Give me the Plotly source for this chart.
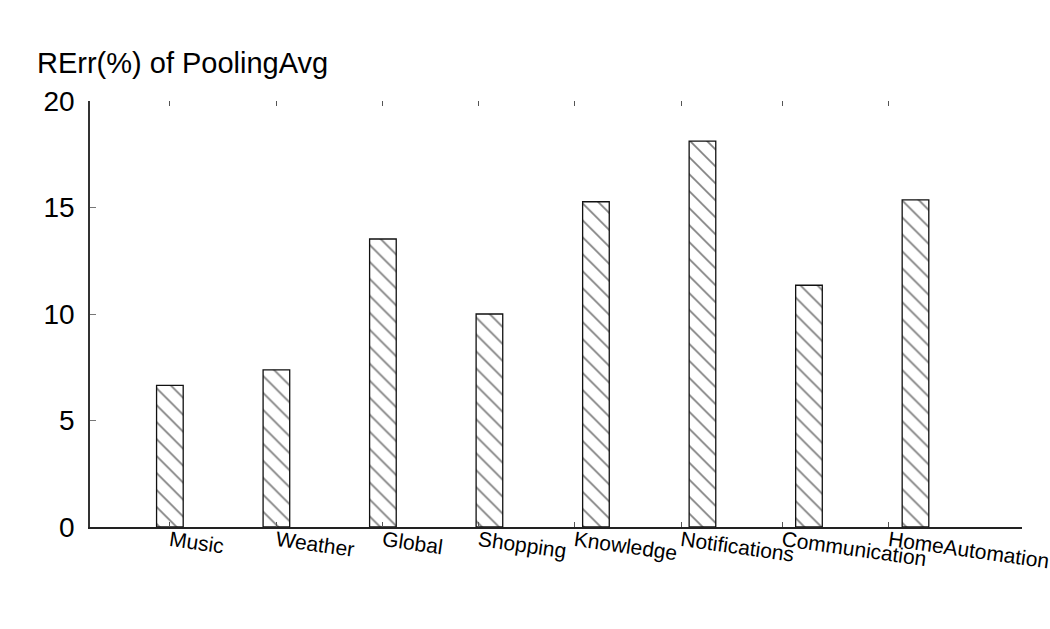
import plotly.graph_objects as go

categories = ["Music", "Weather", "Global", "Shopping", "Knowledge",
              "Notifications", "Communication", "HomeAutomation"]
values = [6.65, 7.38, 13.52, 10.0, 15.27, 18.12, 11.35, 15.36]
y_ticks = [0, 5, 10, 15, 20]

# layout: bar slots and (irregular) label/tick positions, in slot units
bar_pos = list(range(len(categories)))
tick_pos = [0, 1, 2, 2.9, 3.8, 4.8, 5.75, 6.75]

fig = go.Figure()
fig.add_trace(go.Bar(
    x=bar_pos, y=values, width=0.25,
    marker=dict(color="white",
                line=dict(color="#111", width=1.3),
                pattern=dict(shape="\\", fgcolor="#000", bgcolor="white",
                             size=12, solidity=0.14)),
    showlegend=False,
))
# invisible trace on top axis to carry mirrored ticks
fig.add_trace(go.Scatter(x=[bar_pos[0]], y=[0], xaxis="x2", mode="markers",
                         marker=dict(opacity=0), showlegend=False,
                         hoverinfo="skip"))

fig.update_layout(
    width=1050, height=629,
    margin=dict(l=90, r=28, t=101, b=102, autoexpand=False),
    plot_bgcolor="white", paper_bgcolor="white",
    font=dict(family="Liberation Sans, Arial, sans-serif", color="black"),
    xaxis=dict(range=[-0.75, 8.0], tickmode="array", tickvals=tick_pos,
               ticktext=categories, tickangle=8, ticks="inside", ticklen=5,
               tickcolor="#555", tickwidth=1, showline=True, linecolor="#222",
               linewidth=1.5, showgrid=False, zeroline=False,
               tickfont=dict(size=21), ticklabeloverflow="allow",
               ticklabelstandoff=-8, automargin=False),
    xaxis2=dict(range=[-0.75, 8.0], overlaying="x", side="top",
                tickmode="array", tickvals=tick_pos, showticklabels=False,
                ticks="inside", ticklen=5, tickcolor="#555", tickwidth=1,
                showline=False, showgrid=False, zeroline=False,
                automargin=False),
    yaxis=dict(range=[0, 20], tickmode="array", tickvals=y_ticks,
               ticks="inside", ticklen=6, tickcolor="#777", tickwidth=1,
               showline=True, linecolor="#333", linewidth=1.5,
               showgrid=False, zeroline=False, tickfont=dict(size=28),
               ticklabelstandoff=8, automargin=False),
    annotations=[dict(text="RErr(%) of PoolingAvg", xref="paper", yref="paper",
                      x=-0.059, y=1.089, xanchor="left", yanchor="middle",
                      showarrow=False, font=dict(size=29))],
)

fig.write_html("out.html", config={"displayModeBar": False},
               post_script="document.body.style.margin='0';"
                           "document.body.style.overflow='hidden';")
